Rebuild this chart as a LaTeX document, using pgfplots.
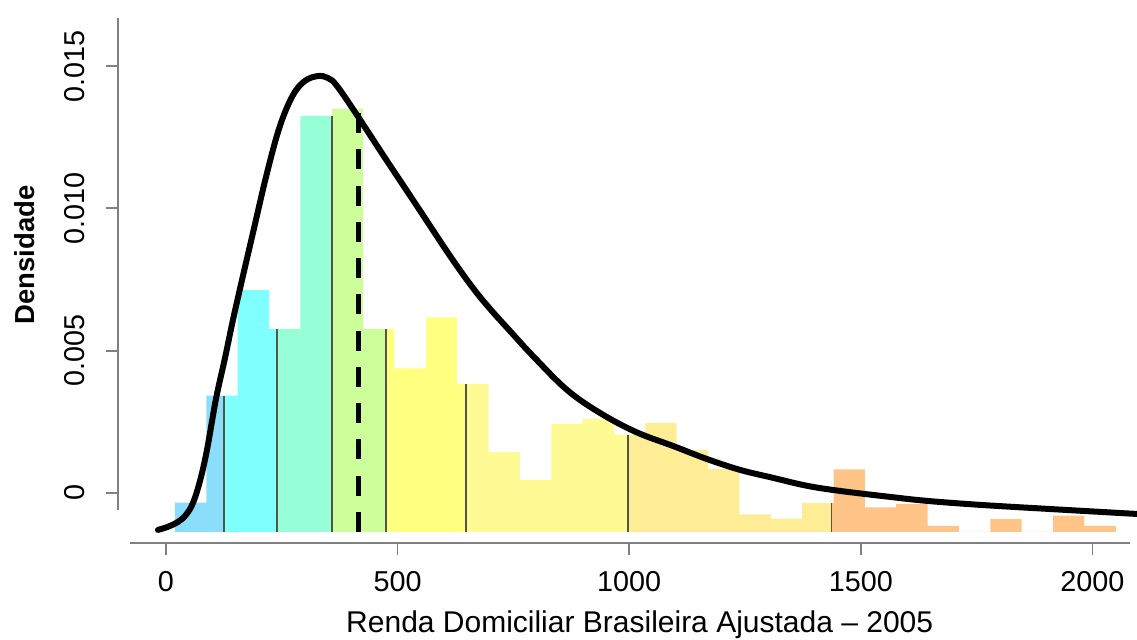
\documentclass[border=0pt]{standalone}
\usepackage{pgfplots}
\pgfplotsset{compat=1.18}
\usepackage{fontspec}
\setmainfont{Liberation Sans}
\definecolor{cLB}{RGB}{139,222,251}
\definecolor{cCY}{RGB}{128,255,255}
\definecolor{cAQ}{RGB}{150,255,216}
\definecolor{cGR}{RGB}{204,255,153}
\definecolor{cY1}{RGB}{255,255,128}
\definecolor{cY2}{RGB}{255,251,148}
\definecolor{cY3}{RGB}{255,237,150}
\definecolor{cOR}{RGB}{255,196,135}
\definecolor{cSEP}{RGB}{85,85,70}
\begin{document}
\begin{tikzpicture}
\begin{axis}[
  scale only axis, width=407.6pt, height=210pt,
  xmin=-103.6, xmax=2096.3, ymin=-0.00176, ymax=0.01669,
  axis line style={draw=none},
  tick pos=left,
  xtick={0,500,1000,1500,2000},
  xticklabels={0,500,1000,1500,2000},
  ytick={0,0.005,0.010,0.015},
  yticklabels={0,0.005,0.010,0.015},
  scaled y ticks=false,
  tick align=outside, major tick length=4.8pt,
  tick style={color=gray, line width=0.7pt},
  /pgf/number format/assume math mode=true,
  xticklabel style={font=\fontsize{11.5}{13}\selectfont, anchor=north, yshift=-3.2pt},
  yticklabel style={font=\fontsize{11.5}{13}\selectfont, xshift=-4.8pt, rotate=90, anchor=south},
  xlabel={Renda Domiciliar Brasileira Ajustada – 2005},
  xlabel style={font=\fontsize{12}{14}\selectfont, at={(axis description cs:0.512,-0.156)}, anchor=center},
  ylabel={Densidade},
  ylabel style={font=\fontsize{11}{13}\selectfont\bfseries, at={(axis description cs:-0.0913,0.549)}, anchor=center, rotate=0},
  clip mode=individual,
]
% histogram, one filled outline per colour class (base of the bars at -0.00137)
\addplot[fill=cLB, draw=none] coordinates {(19.4,-0.00137) (19.4,-0.00034) (87.1,-0.00034) (87.1,0.00342) (125.2,0.00342) (125.2,-0.00137)};
\addplot[fill=cCY, draw=none] coordinates {(125.2,-0.00137) (125.2,0.00342) (154.8,0.00342) (154.8,0.00713) (222.5,0.00713) (222.5,0.00576) (239.6,0.00576) (239.6,-0.00137)};
\addplot[fill=cAQ, draw=none] coordinates {(239.6,-0.00137) (239.6,0.00576) (290.2,0.00576) (290.2,0.01325) (357.9,0.01325) (357.9,-0.00137)};
\addplot[fill=cGR, draw=none] coordinates {(357.9,-0.00137) (357.9,0.01349) (425.6,0.01349) (425.6,0.00576) (475,0.00576) (475,-0.00137)};
\addplot[fill=cY1, draw=none] coordinates {(475,-0.00137) (475,0.00576) (493.3,0.00576) (493.3,0.00438) (561,0.00438) (561,0.00617) (628.7,0.00617) (628.7,0.00382) (647.7,0.00382) (647.7,-0.00137)};
\addplot[fill=cY2, draw=none] coordinates {(647.7,-0.00137) (647.7,0.00382) (696.4,0.00382) (696.4,0.00143) (764.1,0.00143) (764.1,0.00045) (831.8,0.00045) (831.8,0.00243) (899.5,0.00243) (899.5,0.00261) (967.2,0.00261) (967.2,0.00205) (997.4,0.00205) (997.4,-0.00137)};
\addplot[fill=cY3, draw=none] coordinates {(997.4,-0.00137) (997.4,0.00205) (1034.9,0.00205) (1034.9,0.00245) (1102.6,0.00245) (1102.6,0.00151) (1170.3,0.00151) (1170.3,0.00084) (1238,0.00084) (1238,-0.00075) (1305.7,-0.00075) (1305.7,-0.00091) (1373.4,-0.00091) (1373.4,-0.00036) (1437,-0.00036) (1437,-0.00137)};
\addplot[fill=cOR, draw=none] coordinates {(1437,-0.00137) (1437,-0.00036) (1441.1,-0.00036) (1441.1,0.00083) (1508.8,0.00083) (1508.8,-0.00051) (1576.5,-0.00051) (1576.5,-0.00039) (1644.2,-0.00039) (1644.2,-0.00116) (1711.9,-0.00116) (1711.9,-0.00137) (1779.6,-0.00137) (1779.6,-0.00092) (1847.3,-0.00092) (1847.3,-0.00137) (1915,-0.00137) (1915,-0.0008) (1982.7,-0.0008) (1982.7,-0.00116) (2050.4,-0.00116) (2050.4,-0.00137)};
% class separators
\addplot[cSEP, line width=0.7pt] coordinates {(125.2,-0.00137) (125.2,0.00342)};
\addplot[cSEP, line width=0.7pt] coordinates {(239.6,-0.00137) (239.6,0.00576)};
\addplot[cSEP, line width=0.7pt] coordinates {(357.9,-0.00137) (357.9,0.01325)};
\addplot[cSEP, line width=0.7pt] coordinates {(475,-0.00137) (475,0.00576)};
\addplot[cSEP, line width=0.7pt] coordinates {(647.7,-0.00137) (647.7,0.00382)};
\addplot[cSEP, line width=0.7pt] coordinates {(997.4,-0.00137) (997.4,0.00205)};
\addplot[cSEP, line width=0.7pt] coordinates {(1437,-0.00137) (1437,-0.00036)};
% mean (dashed)
\addplot[black, line width=2pt, dash pattern=on 8pt off 6.5pt] coordinates {(415,-0.00137) (415,0.01349)};
% density curve
\addplot[black, line width=2.4pt, line cap=round, smooth, tension=0.6] coordinates {
(-17.3,-0.00130) (4.3,-0.00119) (25.9,-0.00102) (43.2,-0.00077) (58.3,-0.00035)
(73.4,0.00042) (88.5,0.00151) (107.9,0.00330) (127.4,0.00474) (144.6,0.00608) (164.1,0.00748)
(187.8,0.00914) (218.0,0.01124) (246.1,0.01290) (274.2,0.01398) (300.1,0.01448)
(328.2,0.01465) (349.7,0.01458) (369.2,0.01430) (412.3,0.01328) (468.5,0.01188)
(541.9,0.01008) (613.1,0.00833) (662.8,0.00720) (699.5,0.00647) (742.7,0.00569)
(792.3,0.00481) (865.7,0.00362) (937.0,0.00281) (1014.7,0.00214) (1094.6,0.00165)
(1168.0,0.00119) (1239.2,0.00081) (1310.4,0.00053) (1383.9,0.00025) (1455.1,0.00007)
(1563.0,-0.00014) (1642.9,-0.00028) (1757.3,-0.00042) (1902.0,-0.00056) (2096.3,-0.00074)};
% R-style axis lines
\draw[gray, line width=0.7pt] (axis cs:-103.6,-0.0006) -- (axis cs:-103.6,0.01669);
\draw[gray, line width=0.7pt] (axis cs:-77.7,-0.00176) -- (axis cs:2081,-0.00176);
\end{axis}
\pgfresetboundingbox
\path[use as bounding box] (-47.2pt,-38.8pt) rectangle (407.6pt,217.2pt);
\end{tikzpicture}
\end{document}
